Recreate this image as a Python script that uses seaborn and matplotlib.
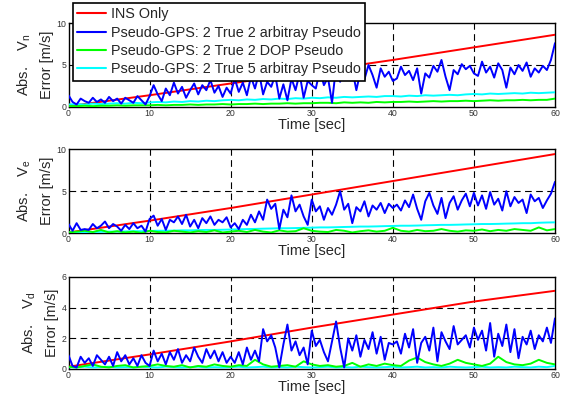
import numpy as np
import pandas as pd
import matplotlib
matplotlib.use("Agg")
import matplotlib.pyplot as plt
import seaborn as sns

# ---------------- data ----------------
series_names = ["INS Only",
                "Pseudo-GPS: 2 True 2 arbitray Pseudo",
                "Pseudo-GPS: 2 True 2 DOP Pseudo",
                "Pseudo-GPS: 2 True 5 arbitray Pseudo"]
components = ["n", "e", "d"]
y_limits = [(0, 10), (0, 10), (0, 6)]
y_ticks = [[0, 5, 10], [0, 5, 10], [0, 2, 4, 6]]
x_ticks = [0, 10, 20, 30, 40, 50, 60]

red_t = [0, 10, 20, 30, 40, 50, 60]
red_n = [0.1, 1.4, 2.8, 4.2, 5.6, 7.1, 8.6]
red_e = [0.1, 1.5, 3.0, 4.6, 6.2, 7.8, 9.4]
red_d = [0.15, 0.95, 1.8, 2.7, 3.55, 4.4, 5.1]

blue_n = [1.4, 0.6, 0.3, 1.0, 0.7, 0.5, 1.1, 0.6, 0.9, 0.5, 1.2, 0.7, 1.0, 0.4, 1.1, 0.8, 0.5, 1.3, 0.8, 0.3, 1.3,
          2.6, 1.5, 0.7, 2.2, 1.4, 2.9, 1.6, 2.4, 1.1, 2.0, 2.8, 1.5, 2.6, 2.0, 3.2, 1.7, 2.5, 1.2, 2.3, 1.6,
          3.4, 1.8, 2.9, 1.4, 3.6, 2.2, 4.1, 1.5, 3.0, 2.4, 3.8, 1.0, 2.7, 0.8, 3.4, 2.0, 4.0, 1.1, 3.1, 2.6,
          2.2, 4.4, 2.6, 3.5, 0.5, 4.8, 3.0, 5.2, 3.6, 4.5, 2.0, 4.2, 3.3, 5.0, 3.8, 2.3, 4.6, 3.6, 4.2, 3.1,
          3.4, 4.8, 3.8, 4.3, 3.2, 4.6, 1.6, 4.0, 3.5, 4.9, 4.2, 5.6, 3.6, 2.0, 4.4, 3.9, 5.1, 4.5, 4.9, 4.0,
          3.7, 5.4, 4.1, 4.8, 3.5, 5.2, 4.4, 2.3, 4.7, 3.9, 5.0, 4.3, 5.3, 3.6, 4.6, 4.1, 4.9, 4.4, 5.6, 7.6]
blue_e = [1.1, 0.3, 1.2, 0.4, 0.5, 0.4, 1.1, 0.6, 0.9, 1.4, 0.6, 1.1, 0.8, 0.3, 1.0, 0.5, 1.2, 0.6, 0.9, 0.2, 1.7,
          2.1, 0.9, 1.7, 0.4, 1.6, 1.3, 2.0, 1.1, 2.2, 0.8, 1.6, 0.6, 1.8, 1.2, 2.0, 1.0, 1.6, 1.3, 1.9, 0.7,
          1.2, 0.5, 1.6, 1.0, 2.2, 1.3, 2.6, 1.6, 4.0, 2.9, 3.5, 0.5, 2.8, 1.9, 4.5, 2.6, 3.4, 2.0, 1.0, 4.0,
          2.6, 3.2, 1.6, 3.0, 2.2, 3.4, 5.0, 2.8, 3.5, 1.2, 3.1, 2.6, 3.8, 2.0, 3.3, 2.8, 3.6, 2.4, 3.5, 3.0,
          3.4, 2.7, 3.9, 3.1, 4.6, 2.9, 1.6, 3.8, 4.8, 3.3, 2.3, 4.2, 1.8, 3.6, 4.4, 2.8, 3.9, 4.7, 3.2, 4.8,
          3.3, 4.5, 2.9, 4.9, 3.4, 4.1, 2.7, 5.0, 3.2, 4.3, 3.6, 4.0, 2.4, 4.6, 3.8, 4.2, 3.0, 3.9, 4.7, 6.1]
blue_d = [0.9, 0.2, 0.1, 0.8, 0.4, 0.7, 0.2, 0.9, 0.6, 0.3, 0.8, 0.2, 1.1, 0.5, 0.9, 0.3, 0.7, 0.2, 0.9, 0.4, 0.2,
          1.2, 0.5, 1.0, 0.3, 1.1, 0.6, 1.3, 0.4, 0.9, 0.5, 1.4, 0.8, 0.4, 1.3, 0.7, 1.2, 0.5, 1.1, 0.4, 0.8,
          0.4, 1.1, 0.3, 1.4, 0.6, 1.2, 0.5, 2.6, 1.8, 2.2, 1.4, 0.1, 1.6, 2.9, 1.2, 1.8, 0.9, 1.4, 0.3, 2.5,
          1.5, 1.9, 1.1, 0.5, 1.8, 3.1, 1.4, 0.1, 2.0, 1.2, 2.2, 0.8, 1.9, 1.3, 2.4, 1.0, 2.1, 0.6, 1.7, 1.6,
          1.8, 1.0, 2.3, 1.4, 2.6, 0.4, 1.7, 2.1, 1.2, 2.7, 0.5, 2.4, 1.8, 1.3, 2.8, 1.6, 1.9, 2.2, 1.4, 2.7,
          1.9, 2.5, 1.2, 3.0, 0.8, 2.3, 1.5, 2.9, 1.1, 2.6, 0.7, 2.1, 1.6, 2.5, 1.3, 2.2, 1.8, 2.7, 1.7, 3.3]

green_n = [0.1, 0.1, 0.15, 0.1, 0.15, 0.15, 0.2, 0.15, 0.2, 0.2, 0.2, 0.25, 0.2, 0.25, 0.25, 0.3, 0.25, 0.3, 0.3, 0.35,
           0.3, 0.35, 0.35, 0.4, 0.35, 0.4, 0.4, 0.45, 0.4, 0.45, 0.45, 0.5, 0.5, 0.45, 0.55, 0.5, 0.55, 0.5, 0.6, 0.55,
           0.6, 0.6, 0.65, 0.6, 0.65, 0.7, 0.65, 0.7, 0.7, 0.75, 0.7, 0.75, 0.8, 0.75, 0.8, 0.8, 0.85, 0.8, 0.85, 0.85, 1.0]
cyan_n = [0.3, 0.35, 0.3, 0.4, 0.35, 0.4, 0.45, 0.4, 0.5, 0.45, 0.55, 0.6, 0.55, 0.65, 0.6, 0.7, 0.65, 0.75, 0.7, 0.8,
          0.85, 0.8, 0.9, 0.85, 0.95, 0.9, 1.0, 0.95, 1.05, 1.0, 1.1, 1.05, 1.15, 1.1, 1.2, 1.15, 1.2, 1.25, 1.2, 1.3,
          1.3, 1.25, 1.35, 1.3, 1.4, 1.35, 1.4, 1.45, 1.4, 1.5, 1.55, 1.5, 1.6, 1.55, 1.6, 1.65, 1.6, 1.7, 1.65, 1.7, 1.75]
green_e = [0.1, 0.2, 0.3, 0.15, 0.4, 0.1, 0.25, 0.1, 0.2, 0.05, 0.3, 0.15, 0.1, 0.3, 0.2, 0.1, 0.25, 0.15, 0.35, 0.1,
           0.2, 0.3, 0.15, 0.4, 0.2, 0.1, 0.35, 0.2, 0.25, 0.6, 0.3, 0.2, 0.15, 0.4, 0.3, 0.1, 0.25, 0.35, 0.2, 0.3,
           0.65, 0.3, 0.2, 0.4, 0.25, 0.3, 0.5, 0.3, 0.2, 0.35, 0.3, 0.45, 0.25, 0.4, 0.3, 0.5, 0.4, 0.3, 0.7, 0.35, 0.5]
cyan_e = [0.1, 0.12, 0.15, 0.15, 0.18, 0.2, 0.2, 0.22, 0.25, 0.25, 0.28, 0.3, 0.3, 0.32, 0.35, 0.35, 0.38, 0.4, 0.4, 0.42,
          0.45, 0.47, 0.5, 0.52, 0.55, 0.57, 0.6, 0.6, 0.62, 0.65, 0.67, 0.7, 0.7, 0.72, 0.75, 0.77, 0.8, 0.8, 0.82, 0.85,
          0.87, 0.9, 0.9, 0.92, 0.95, 0.97, 1.0, 1.0, 1.02, 1.05, 1.07, 1.1, 1.1, 1.12, 1.15, 1.17, 1.2, 1.2, 1.25, 1.28, 1.3]
green_d = [0.15, 0.1, 0.2, 0.3, 0.15, 0.1, 0.2, 0.25, 0.1, 0.15, 0.2, 0.3, 0.2, 0.15, 0.25, 0.1, 0.2, 0.15, 0.3, 0.2,
           0.15, 0.25, 0.2, 0.6, 0.3, 0.15, 0.2, 0.25, 0.15, 0.5, 0.3, 0.2, 0.25, 0.15, 0.2, 0.4, 0.15, 0.3, 0.2, 0.35,
           0.25, 0.2, 0.55, 0.75, 0.45, 0.3, 0.2, 0.35, 0.6, 0.4, 0.3, 0.2, 0.35, 0.8, 0.45, 0.3, 0.25, 0.35, 0.6, 0.4, 0.3]
cyan_d = [0.12, 0.1, 0.15, 0.1, 0.12, 0.15, 0.1, 0.12, 0.1, 0.15, 0.12, 0.1, 0.15, 0.12, 0.1, 0.12, 0.15, 0.1, 0.12, 0.1,
          0.12, 0.15, 0.1, 0.12, 0.15, 0.1, 0.12, 0.1, 0.15, 0.12, 0.1, 0.12, 0.15, 0.1, 0.12, 0.1, 0.15, 0.12, 0.1, 0.12,
          0.15, 0.1, 0.12, 0.15, 0.1, 0.12, 0.1, 0.15, 0.12, 0.1, 0.12, 0.15, 0.1, 0.12, 0.1, 0.15, 0.12, 0.1, 0.15, 0.12, 0.2]

colors = ["#ff0000", "#0000ff", "#00ff00", "#00ffff"]

# ---------------- style ----------------
sns.set_style("white")
plt.rcParams['font.family'] = ['Liberation Sans', 'DejaVu Sans']
plt.rcParams['mathtext.fontset'] = 'custom'
plt.rcParams['mathtext.rm'] = 'Liberation Sans'
plt.rcParams['mathtext.it'] = 'Liberation Sans:italic'

fig = plt.figure(figsize=(5.62, 4.0), dpi=100)
W, H = 562.0, 400.0
boxes = [(68.5, 23, 555, 107), (68.5, 149, 555, 233.3), (68.5, 277, 555, 369)]

all_data = [
    (red_n, blue_n, green_n, cyan_n),
    (red_e, blue_e, green_e, cyan_e),
    (red_d, blue_d, green_d, cyan_d),
]

axes = []
for i, (x0, y0, x1, y1) in enumerate(boxes):
    ax = fig.add_axes([x0 / W, 1 - y1 / H, (x1 - x0) / W, (y1 - y0) / H])
    axes.append(ax)
    red, blue, green, cyan = all_data[i]
    frames = [
        pd.DataFrame({"t": red_t, "v": red}),
        pd.DataFrame({"t": np.linspace(0, 60, len(blue)), "v": blue}),
        pd.DataFrame({"t": np.linspace(0, 60, len(green)), "v": green}),
        pd.DataFrame({"t": np.linspace(0, 60, len(cyan)), "v": cyan}),
    ]
    order = [0, 3, 2, 1]
    for k in order:
        sns.lineplot(data=frames[k], x="t", y="v", ax=ax, color=colors[k],
                     linewidth=1.4, legend=False,
                     zorder=3 + (1 if k == 1 else 0))
    ax.set_xlim(0, 60)
    ax.set_ylim(*y_limits[i])
    ax.set_xticks(x_ticks)
    ax.set_yticks(y_ticks[i])
    ax.tick_params(axis='both', which='both', direction='in', length=3, width=0.6,
                   labelsize=6.3, labelcolor='#333333', top=True, right=True,
                   bottom=True, left=True, pad=1.5)
    for g in x_ticks[1:-1]:
        ax.axvline(g, color='black', lw=0.8, ls=(0, (6, 4)), zorder=1)
    for g in y_ticks[i][1:-1]:
        ax.axhline(g, color='black', lw=0.8, ls=(0, (6, 4)), zorder=1)
    for s in ax.spines.values():
        s.set_visible(True)
        s.set_color('black')
        s.set_linewidth(1.0)
    ax.set_xlabel("Time [sec]", fontsize=10.5, labelpad=0.0)
    ax.set_ylabel("Abs.    V$_\\mathregular{%s}$\nError [m/s]" % components[i],
                  fontsize=10.5, labelpad=2, linespacing=1.6)

# legend
ax0 = axes[0]
handles = [plt.Line2D([], [], color=c, lw=1.5) for c in colors]
leg = ax0.legend(handles, series_names, loc='upper left',
                 bbox_to_anchor=(73 / W, 1 - 3 / H), bbox_transform=fig.transFigure,
                 borderaxespad=0, fontsize=10.4, frameon=True, fancybox=False,
                 framealpha=1, edgecolor='black', handlelength=2.0,
                 handletextpad=0.3, labelspacing=0.3, borderpad=0.3)
leg.get_frame().set_linewidth(1.2)
leg.set_zorder(10)

fig.savefig("out.png", dpi=100)
